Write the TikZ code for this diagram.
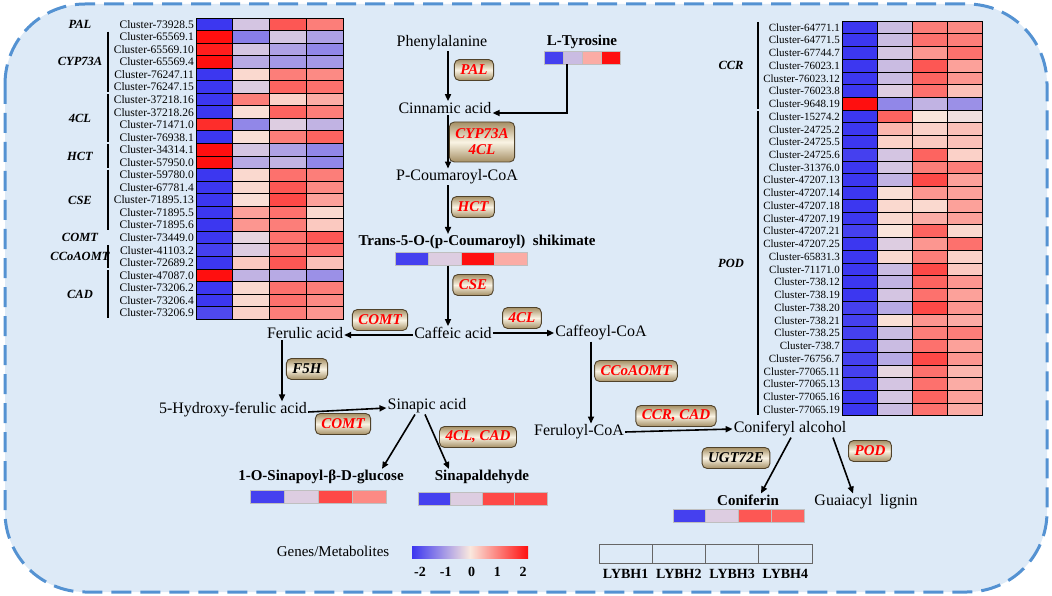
\documentclass[tikz,border=0pt]{standalone}
\usepackage{fontspec}
\setmainfont{Liberation Serif}
\usetikzlibrary{arrows.meta,calc}

% colour of one heatmap cell from a z-score (-2..2)
\newcommand\hmcolor[1]{%
  \pgfmathtruncatemacro\hmneg{(#1)<0}%
  \ifnum\hmneg=1
    \pgfmathsetmacro\hmpct{min(abs(#1)*50,100)}%
    \colorlet{hmcell}{hmblue!\hmpct!hmmid}%
  \else
    \pgfmathsetmacro\hmpct{min(100*(abs(#1)/2)^1.4,100)}%
    \colorlet{hmcell}{hmred!\hmpct!hmmid}%
  \fi}

\begin{document}
\begin{tikzpicture}[x=1pt,y=-1pt,
  frame/.style={draw=framec,fill=bgc,line width=3pt,dash pattern=on 20pt off 9pt,rounded corners=80pt},
  met/.style={font=\fontsize{16}{18}\selectfont,inner sep=1pt},
  metb/.style={font=\bfseries\fontsize{15}{17}\selectfont,inner sep=1pt},
  enz/.style={rounded corners=5pt,draw=enzline,line width=.9pt,top color=enzdark,bottom color=enzdark,
    middle color=enzlight,text=red,font=\bfseries\itshape\fontsize{15}{16}\selectfont,
    minimum height=21pt,inner xsep=6pt,inner ysep=1pt,align=center},
  enzk/.style={enz,text=black},
  flow/.style={-{Triangle[length=7pt,width=6pt]},line width=1.6pt},
  clust/.style={font=\fontsize{11.5}{12}\selectfont,inner sep=0pt,anchor=east},
  clustr/.style={font=\fontsize{11}{12}\selectfont,inner sep=0pt,anchor=east},
  gene/.style={font=\bfseries\itshape\fontsize{12.5}{13}\selectfont,inner sep=0pt},
  brk/.style={line width=1.2pt},
  cell/.style={draw=black,line width=.9pt},
  bar/.style={inner sep=0pt,minimum height=13pt},
  tick/.style={font=\bfseries\fontsize{14}{15}\selectfont,inner sep=0pt},
  lyb/.style={draw=black!60,line width=1pt,inner sep=0pt,minimum width=53.25pt,minimum height=19pt},
  lybl/.style={font=\bfseries\fontsize{14}{15}\selectfont,inner sep=0pt}]
\definecolor{bgc}{RGB}{221,234,247}
\definecolor{framec}{RGB}{84,146,210}
\definecolor{hmblue}{RGB}{60,55,240}
\definecolor{hmmid}{RGB}{250,232,222}
\definecolor{hmred}{RGB}{255,15,15}
\definecolor{enzdark}{RGB}{165,143,100}
\definecolor{enzlight}{RGB}{250,244,228}
\definecolor{enzline}{RGB}{80,66,42}
\useasboundingbox (0,0) rectangle (1052,596);
\draw[frame] (5,4) rectangle (1047,592);

% left heatmap
\foreach \lbl/\a/\b/\c/\d [count=\i from 0] in {
  73928.5/-2/-0.4/1.5/1.2,
  65569.1/2/-1.2/-0.4/-0.8,
  65569.10/1.9/-0.4/-0.8/-1.1,
  65569.4/2/-0.7/-0.9/-0.9,
  76247.11/-2/0.3/1.2/1.1,
  76247.15/-2/-0.3/1.4/1.3,
  37218.16/-2/1.2/0.4/0.8,
  37218.26/-2/0.2/1.4/1.2,
  71471.0/1.8/-1.1/-0.3/-0.6,
  76938.1/-2/0.2/1.2/1.4,
  34314.1/2/-0.4/-0.8/-1.1,
  57950.0/2/-0.7/-0.6/-1.1,
  59780.0/-2/0.3/1.3/1.2,
  67781.4/-2/0.3/1.5/1.1,
  71895.13/-2/0.2/1.6/0.9,
  71895.5/-2/0.9/1.3/0.3,
  71895.6/-2/1.0/1.2/0.5,
  73449.0/-2/-0.2/1.3/1.5,
  41103.2/-1.9/-0.3/1.3/1.3,
  72689.2/-2/0.5/1.5/0.6,
  47087.0/2/-0.6/-0.7/-1.0,
  73206.2/-2/0.3/1.3/1.2,
  73206.4/-2/0.3/1.3/1.1,
  73206.9/-1.8/0.4/1.2/1.0}{
  \node[clust] (lc\i) at (194,{18+(\i+0.5)*12.55}) {Cluster-\lbl};
  \foreach \v [count=\j from 0] in {\a,\b,\c,\d}{
    \hmcolor{\v}
    \filldraw[cell,fill=hmcell] ({196+\j*36.75},{18+\i*12.55}) rectangle ++(36.75,12.55);
  }
}
\node[gene] (gPAL) at (80,{18+0.5*12.55}) {PAL};
\node[gene] (gCOMT) at (80,{18+17.5*12.55}) {COMT};
\foreach \g/\r/\s in {CYP73A/1/5,4CL/6/9,HCT/10/11,CSE/12/16,CCoAOMT/18/19,CAD/20/23}{
  \draw[brk] (108,{18+\r*12.55+1}) -- (108,{18+(\s+1)*12.55-1});
  \node[gene] (g\g) at (80,{18+(\r+\s+1)/2*12.55}) {\g};
}

% right heatmap
\foreach \lbl/\a/\b/\c/\d [count=\i from 0] in {
  64771.1/-2/-0.5/1.2/1.1,
  64771.5/-2/-0.5/1.3/1.2,
  67744.7/-2/-0.4/1.0/1.3,
  76023.1/-2/-0.5/1.5/0.9,
  76023.12/-2/-0.5/1.4/1.0,
  76023.8/-2/-0.3/1.3/0.6,
  9648.19/2/-1.1/-0.6/-1.0,
  15274.2/-2/1.4/0.1/-0.1,
  24725.2/-2/0.7/0.4/0.6,
  24725.5/-2/0.4/0.5/0.6,
  24725.6/-1.9/-0.4/1.4/0.4,
  31376.0/-2/-0.4/1.2/1.2,
  47207.13/-2/-0.6/1.6/0.9,
  47207.14/-2/0.2/1.0/0.9,
  47207.18/-2/0.3/0.3/0.9,
  47207.19/-2/0.3/0.8/0.9,
  47207.21/-1.9/0.1/1.4/0.3,
  47207.25/-2/-0.3/1.0/1.3,
  65831.3/-2/0.3/1.2/0.4,
  71171.0/-2/-0.5/1.6/0.5,
  738.12/-2/-0.6/1.4/1.0,
  738.19/-2/-0.4/1.3/0.9,
  738.20/-1.9/-0.7/1.6/1.0,
  738.21/-1.9/0.2/1.0/0.8,
  738.25/-1.9/-0.5/1.2/1.2,
  738.7/-1.9/-0.5/1.3/0.9,
  76756.7/-1.9/-0.7/1.6/1.0,
  77065.11/-1.9/-0.2/1.3/0.7,
  77065.13/-1.9/-0.4/1.3/0.8,
  77065.16/-2/-0.4/1.4/0.9,
  77065.19/-2/-0.5/1.3/0.8}{
  \node[clustr] (rc\i) at (840,{21+(\i+0.5)*12.74}) {Cluster-\lbl};
  \foreach \v [count=\j from 0] in {\a,\b,\c,\d}{
    \hmcolor{\v}
    \filldraw[cell,fill=hmcell] ({842+\j*35},{21+\i*12.74}) rectangle ++(35,12.74);
  }
}
\foreach \g/\r/\s in {CCR/0/6,POD/7/30}{
  \draw[brk] (758,{21+\r*12.74+1}) -- (758,{21+(\s+1)*12.74-1});
  \node[gene] (g\g) at (731,{21+(\r+\s+1)/2*12.74}) {\g};
}

% metabolite bars
\foreach \nm/\cx/\cy/\w/\a/\b/\c/\d in {
  tyr/582/57.5/19/-1.9/-0.5/0.8/2,
  shik/461/259/33/-1.9/-0.3/2/0.8,
  sing/318/497/34/-1.9/-0.3/1.6/1.1,
  sinald/482.5/499/32.25/-1.9/-0.3/1.6/1.6,
  conif/738.5/515.5/32.75/-1.9/-0.3/1.5/1.4}{
  \node[bar,minimum width=4*\w] (\nm bar) at (\cx,\cy) {};
  \foreach \v [count=\j from 0] in {\a,\b,\c,\d}{
    \hmcolor{\v}
    \filldraw[fill=hmcell,draw=black!25,line width=.4pt] ([xshift=\j*\w]\nm bar.north west) rectangle ++(\w,13);
  }
}

% pathway
\node[met] (phe) at (442,43) {Phenylalanine};
\node[metb] (tyr) at (582,42) {L-Tyrosine};
\node[met] (cin) at (445,108) {Cinnamic acid};
\node[met] (pcou) at (457,177) {P-Coumaroyl-CoA};
\node[metb] (shik) at (477,242) {Trans-5-O-(p-Coumaroyl)\ \ shikimate};
\node[met] (caf) at (453,333) {Caffeic acid};
\node[met] (fer) at (305,333) {Ferulic acid};
\node[met] (cafcoa) at (601,333) {Caffeoyl-CoA};
\node[met] (hfer) at (233,410) {5-Hydroxy-ferulic acid};
\node[met] (sin) at (427,406) {Sinapic acid};
\node[metb] (sing) at (321,477) {1-O-Sinapoyl-β-D-glucose};
\node[metb] (sinald) at (482,477) {Sinapaldehyde};
\node[met] (fercoa) at (579,432) {Feruloyl-CoA};
\node[met] (conalc) at (790,429) {Coniferyl alcohol};
\node[metb] (conif) at (748,500) {Coniferin};
\node[met] (guai) at (866,502) {Guaiacyl\ \ lignin};

\coordinate (ax) at (448,0);
\coordinate (fx) at (282,0);
\coordinate (cx) at (591,0);
\draw[flow] (phe.south -| ax) -- (cin.north -| ax);
\draw[flow] ([xshift=-15pt]tyrbar.south) |- ([yshift=-5pt]cin.east);
\draw[flow] (cin.south -| ax) -- (pcou.north -| ax);
\draw[flow] (pcou.south -| ax) -- (shik.north -| ax);
\draw[flow] (shikbar.south -| ax) -- (caf.north -| ax);
\draw[flow] ([yshift=-2pt]caf.west) -- ([yshift=-2pt]fer.east);
\draw[flow] (caf.east) -- (cafcoa.west);
\draw[flow] (fer.south -| fx) -- (hfer.north -| fx);
\draw[flow] ([yshift=-2pt]hfer.east) -- ([yshift=-2pt]sin.west);
\draw[flow] ([xshift=-12pt]sin.south) -- ([xshift=61pt]sing.north);
\draw[flow] ([xshift=-2pt]sin.south) -- ([xshift=-33pt]sinald.north);
\draw[flow] (cafcoa.south -| cx) -- (fercoa.north -| cx);
\draw[flow] (fercoa.east) -- (conalc.west);
\draw[flow] ([xshift=1pt]conalc.south) -- ([xshift=13pt]conif.north);
\draw[flow] ([xshift=43pt]conalc.south) -- ([xshift=-13pt]guai.north);

% enzymes
\node[enz] (ePAL) at (474,70) {PAL};
\node[enz,minimum height=40pt] (eCYP) at (482,142) {CYP73A\\4CL};
\node[enz] (eHCT) at (473,207) {HCT};
\node[enz] (eCSE) at (473,285) {CSE};
\node[enz] (eCOMTa) at (380,320) {COMT};
\node[enz] (e4CL) at (522,318) {4CL};
\node[enzk] (eF5H) at (307,369) {F5H};
\node[enz] (eCCo) at (636,371) {CCoAOMT};
\node[enz] (eCOMTb) at (343,424) {COMT};
\node[enz] (e4CLCAD) at (478,437) {4CL, CAD};
\node[enz] (eCCR) at (676,416) {CCR, CAD};
\node[enzk] (eUGT) at (736,458) {UGT72E};
\node[enz] (ePOD) at (870,451) {POD};

% legends
\node[met,font=\fontsize{15}{16}\selectfont] (leg) at (333,551) {Genes/Metabolites};
\node[bar,minimum width=116pt,minimum height=12pt,left color=hmblue,right color=hmred,middle color=hmmid] (cbar) at (470,552) {};
\foreach \t [count=\k from 0] in {-2,-1,0,1,2}
  \node[tick] (t\k) at ({420+\k*25.75},572) {\t};
\foreach \k in {1,...,4}{
  \node[lyb] (ly\k) at ({599+(\k-0.5)*53.25},553.5) {};
  \node[lybl] (lyl\k) at ({599+(\k-0.5)*53.25},574) {LYBH\k};
}
\end{tikzpicture}
\end{document}
